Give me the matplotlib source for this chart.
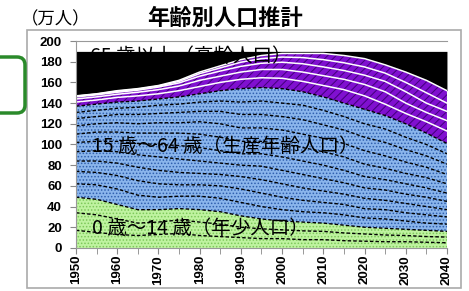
import matplotlib.pyplot as plt
import numpy as np
from matplotlib.patches import Rectangle, FancyBboxPatch

plt.rcParams['font.family'] = ['Noto Sans CJK JP', 'DejaVu Sans']
plt.rcParams['hatch.linewidth'] = 0.7

# Data (万人), 5-year steps
years = [1950, 1955, 1960, 1965, 1970, 1975, 1980, 1985, 1990, 1995,
         2000, 2005, 2010, 2015, 2020, 2025, 2030, 2035, 2040]

# 0-14 歳 (0-4, 5-9, 10-14)
age_0_4 = [17, 15, 13, 12, 13, 14, 12, 11, 10, 9, 9, 8, 8, 7, 6.5, 6, 6, 5.5, 5]
age_5_9 = [17, 17, 15, 12, 12, 13, 13, 12, 10, 9.5, 8.5, 8.5, 8, 7.5, 7, 6.5, 6, 5.5, 5.5]
age_10_14 = [15, 15, 14, 13, 12, 11, 12, 12, 11, 9.5, 8.5, 8.5, 8, 7.5, 6.5, 6.5, 6, 6, 5.5]

# 15-64 歳
age_15 = [13, 14, 15, 14, 12, 12, 13, 13, 13, 12, 11, 10, 10, 10, 9, 9, 8, 7, 7]
age_20 = [12, 12, 13, 14, 13, 11, 11, 12, 13, 13, 12, 11, 10, 10, 9, 9, 8, 8, 7]
age_25 = [10, 11, 12, 13, 13, 12, 11, 11, 12, 13, 13, 12, 11, 10, 10, 9, 9, 8, 7]
age_30 = [9, 10, 11, 12, 13, 13, 12, 11, 11, 13, 13, 13, 12, 11, 10, 10, 9, 9, 8]
age_35 = [9, 9, 10, 11, 12, 13, 13, 12, 11, 12, 13, 13, 13, 12, 11, 10, 10, 9, 8]
age_40 = [8, 9, 9, 10, 11, 12, 13, 13, 12, 12, 13, 13, 13, 13, 12, 11, 10, 10, 9]
age_45 = [8, 8, 9, 9, 10, 10, 12, 13, 13, 13, 13, 13, 13, 13, 13, 12, 11, 10, 9]
age_50 = [7, 7, 8, 9, 9, 10, 10, 12, 13, 13, 13, 14, 13, 13, 13, 13, 12, 11, 10]
age_55 = [6, 6, 6, 7, 8, 8, 9, 10, 12, 13, 13, 14, 14, 13, 13, 13, 12, 11, 10]
age_60 = [6, 6, 6, 6, 6, 7, 8, 10, 13, 13, 14, 13, 13, 13, 14, 13, 13, 11, 10]

# 65 歳以上
age_65 = [4, 4, 4.5, 5, 5, 6, 7, 8, 9, 9.5, 10, 10, 11, 13, 13, 11, 10, 11, 12]
age_70 = [3, 3, 3, 3.5, 4, 4.5, 6, 6, 7, 8, 8.5, 9, 9.5, 10, 11, 12, 10, 9, 10]
age_75 = [2, 2, 2, 2, 2.5, 3, 4, 5, 5.5, 6, 7, 8, 8.5, 8.5, 9, 10, 11, 9, 9]
age_80 = [0.7, 0.7, 1, 1, 1, 1.5, 2.5, 3, 4, 4.5, 5, 6, 7, 7.5, 8, 8, 9, 10, 8]
age_85 = [0.3, 0.3, 0.5, 0.5, 0.5, 1, 1.5, 2, 2.5, 3, 3.5, 4, 6, 7, 8, 8, 10, 12, 12]

young = [age_0_4, age_5_9, age_10_14]
working = [age_15, age_20, age_25, age_30, age_35, age_40, age_45, age_50, age_55, age_60]
elderly = [age_65, age_70, age_75, age_80, age_85]

cap = 190

fig = plt.figure(figsize=(4.69, 2.91), dpi=100)
ax = fig.add_axes([0.162, 0.148, 0.791, 0.711])

x = np.array(years)
dash = (0, (2.5, 1.5))


def draw_group(ax, bands, base, face, hatch_col, hatch, line_col, line_style, lw):
    tops = []
    cur = base.copy()
    for b in bands:
        cur = cur + np.array(b, dtype=float)
        tops.append(cur.copy())
    ax.fill_between(x, base, tops[-1], facecolor=face, edgecolor=hatch_col,
                    hatch=hatch, linewidth=0, zorder=1)
    for t in tops:
        ax.plot(x, t, color=line_col, ls=line_style, lw=lw, zorder=2)
    return tops[-1]


base = np.zeros(len(years))
top_young = draw_group(ax, young, base, '#bff3a0', '#7cc85a', '.....', 'black', dash, 1.0)
top_work = draw_group(ax, working, top_young, '#8ab5ec', '#2f5fae', '.....', 'black', dash, 1.0)
top_all = draw_group(ax, elderly, top_work, '#8010d0', '#42007a', '////', 'white', '-', 1.1)

ax.fill_between(x, top_all, cap, color='black', linewidth=0, zorder=1)

# labels
ax.text(1953.5, 185.5, '65 歳以上（高齢人口）', fontsize=14, color='black',
        va='center', ha='left', zorder=3)
ax.text(1953.8, 98, '15 歳～64 歳（生産年齢人口）', fontsize=14, color='black',
        va='center', ha='left', zorder=3)
ax.text(1953.8, 19, '0 歳～14 歳（年少人口）', fontsize=14, color='black',
        va='center', ha='left', zorder=3)

ax.set_xlim(1950, 2040)
ax.set_ylim(0, 200)
ax.set_xticks(range(1950, 2041, 10))
ax.set_xticks(range(1950, 2041, 5), minor=True)
ax.set_xticklabels([str(y) for y in range(1950, 2041, 10)], rotation=90,
                   fontsize=9.5, fontweight='bold', family='Liberation Sans')
ax.set_yticks(range(0, 201, 20))
ax.set_yticklabels([str(v) for v in range(0, 201, 20)], fontsize=9.5,
                   fontweight='bold', family='Liberation Sans')
ax.tick_params(axis='both', which='both', direction='out', color='#888888', length=4)
ax.tick_params(axis='x', pad=1)
ax.tick_params(axis='y', pad=6)
for s in ax.spines.values():
    s.set_color('#999999')
    s.set_linewidth(0.8)
ax.spines['right'].set_visible(False)

# titles
fig.text(0.48, 0.935, '年齢別人口推計', fontsize=16, fontweight='bold', ha='center', va='center')
fig.text(0.045, 0.935, '（万人）', fontsize=12.5, ha='left', va='center')

# outer frame and side bracket
fig.add_artist(Rectangle((27 / 469, 1 - 288 / 291), 434 / 469, 258 / 291,
                         transform=fig.transFigure, fill=False,
                         edgecolor='#aaaaaa', lw=1.2))
fig.add_artist(FancyBboxPatch((-0.3, (291 - 113) / 100), 0.55, 0.56,
                              boxstyle='round,pad=0,rounding_size=0.08',
                              transform=fig.dpi_scale_trans, fill=False,
                              edgecolor='#2a8a2a', lw=2.5))

plt.savefig('out.png', dpi=100)
